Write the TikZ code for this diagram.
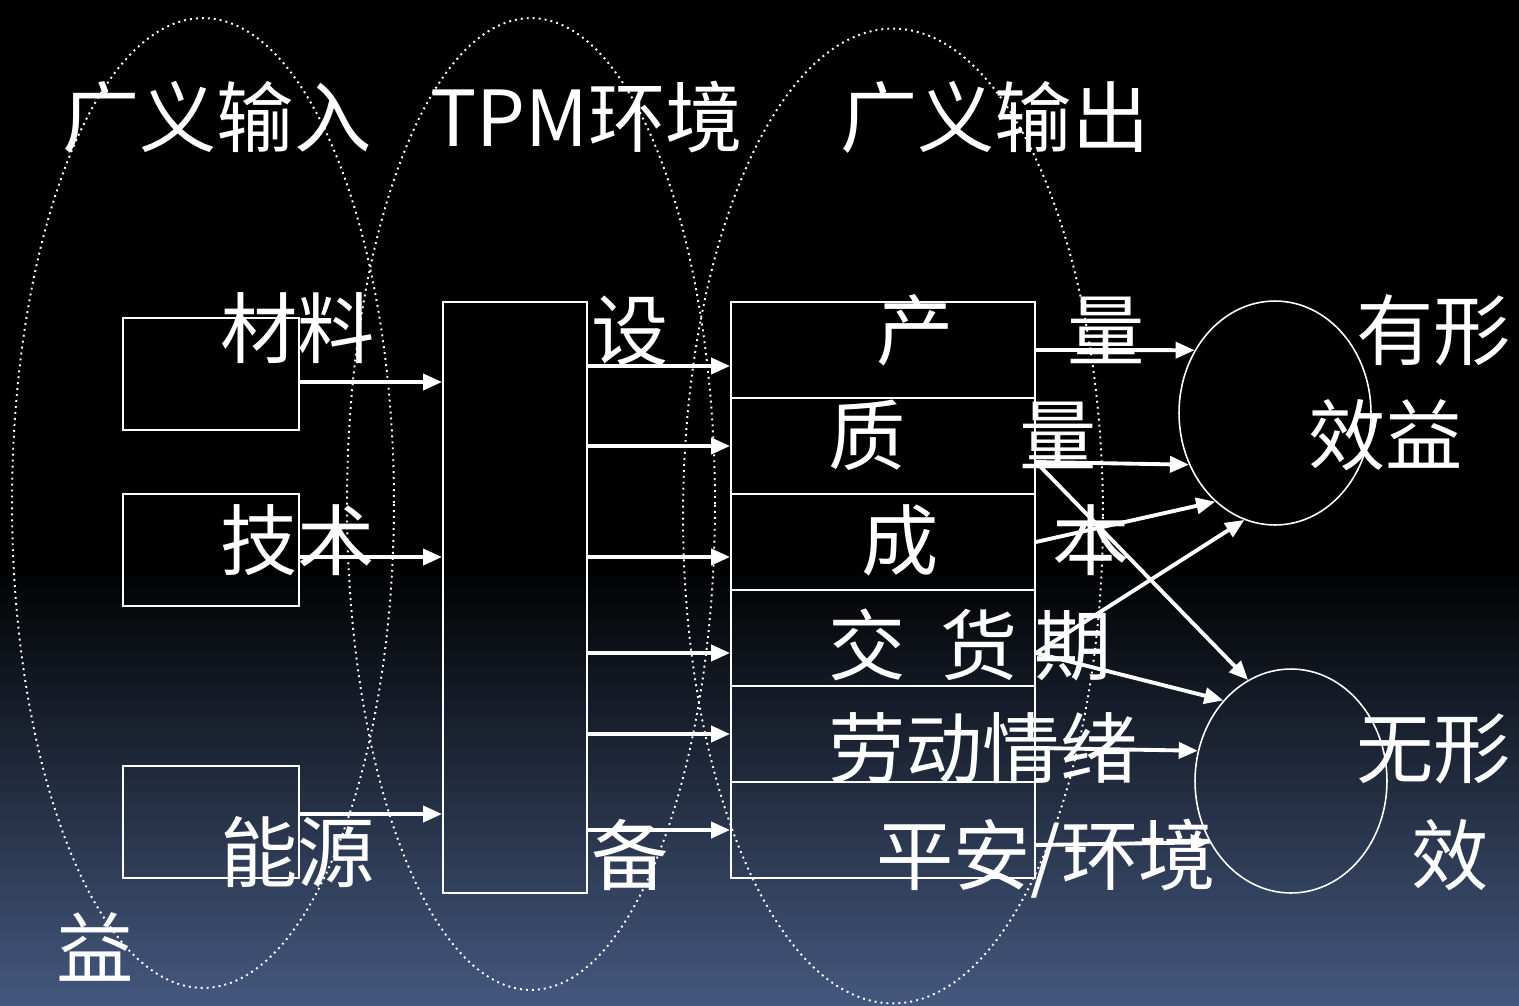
\documentclass[tikz,border=0pt]{standalone}
\usepackage{fontspec}
\setmainfont{Noto Sans CJK SC}
\usetikzlibrary{arrows.meta, shapes.geometric}

\definecolor{bgbot}{RGB}{68,88,126}
\pgfdeclareverticalshading{bgshade}{100bp}{color(0bp)=(bgbot); color(25bp)=(bgbot); color(47bp)=(black); color(100bp)=(black)}

\begin{document}
\begin{tikzpicture}[
        x=0.02cm, y=-0.02cm, % единица = пиксель исходной картинки
        word/.style = {text=white, font=\fontsize{44}{53}\selectfont, inner sep=0pt, anchor=base west},
        box/.style = {draw=white, line width=1.1pt, inner sep=0pt}, % прямоугольники
        zone/.style = {draw=white, line width=1.1pt, dash pattern=on 1.1pt off 2.3pt}, % пунктирные овалы
        gain/.style = {ellipse, draw=white, line width=0.9pt, minimum width=3.84cm, minimum height=4.48cm},
        arr/.style = {draw=white, line width=2.2pt, -{Triangle[length=0.38cm, width=0.32cm]}},
    ]

    \useasboundingbox (0,0) rectangle (1519,1005);
    \shade[shading=bgshade] (0,0) rectangle (1519,1005);

    % три области
    \draw[zone] (203,503) ellipse [x radius=3.82cm, y radius=9.70cm];
    \draw[zone] (531,504) ellipse [x radius=3.68cm, y radius=9.72cm];
    \draw[zone] (893,516) ellipse [x radius=4.20cm, y radius=9.75cm];

    % входы
    \node[box, minimum width=3.52cm, minimum height=2.24cm] (m1) at (211,374) {};
    \node[box, minimum width=3.52cm, minimum height=2.24cm] (m2) at (211,550) {};
    \node[box, minimum width=3.52cm, minimum height=2.24cm] (m3) at (211,822) {};

    \node[box, minimum width=2.88cm, minimum height=11.82cm] (equip) at (515,597.5) {};

    % выходы
    \foreach \i in {1,...,6}
        \node[box, minimum width=6.08cm, minimum height=1.92cm] (r\i) at (883,254+96*\i) {};

    \node[gain] (g1) at (1275,413) {};
    \node[gain] (g2) at (1291,781) {};

    % надписи
    \node[word] (lIn) at (62,146) {广义输入};
    \node[word] (lEnv) at (430,146) {TPM环境};
    \node[word] (lOut) at (840,146) {广义输出};
    \node[word] (lMat) at (220,357) {材料};
    \node[word] (lTec) at (220,569) {技术};
    \node[word] (lEne) at (220,881) {能源};
    \node[word] (lYi) at (56,977) {益};
    \node[word] (lShe) at (591,359) {设};
    \node[word] (lBei) at (591,884) {备};
    \node[word] (lQty) at (876,359) {产\hspace{1.47em}量};
    \node[word] (lQlt) at (828,464) {质\hspace{1.47em}量};
    \node[word] (lCst) at (861,569) {成\hspace{1.47em}本};
    \node[word] (lDlv) at (828,674) {交\hspace{0.45em}货\hspace{0.22em}期};
    \node[word] (lMor) at (828,777) {劳动情绪};
    \node[word] (lSaf) at (876,884) {平安/环境};
    \node[word] (lTg1) at (1356,359) {有形};
    \node[word] (lTg2) at (1308,464) {效益};
    \node[word] (lIt1) at (1356,777) {无形};
    \node[word] (lIt2) at (1411,884) {效};

    % стрелки
    \foreach \src/\dy in {m1/-0.16cm, m2/-0.14cm, m3/0.16cm}
        \draw[arr] ([yshift=\dy]\src.east) coordinate (s) -- (s -| equip.west);
    \foreach \dst/\dy in {r1/-0.32cm, r2/0cm, r3/-0.3cm, r4/-0.3cm, r5/0cm, r6/0cm}
        \draw[arr] ([yshift=\dy]\dst.west) coordinate (t) (equip.east |- t) -- (t);

    \draw[arr] (r1.east) -- (g1.142);
    \draw[arr] ([yshift=-0.32cm]r2.east) -- (g1.211);
    \draw[arr] (r3.east) -- (g1.236);
    \draw[arr] ([yshift=-0.3cm]r4.east) -- (g1.254);
    \draw[arr] ([yshift=-0.32cm]r2.east) -- (g2.113);
    \draw[arr] ([yshift=-0.3cm]r4.east) -- (g2.130);
    \draw[arr] ([yshift=-0.28cm]r5.east) -- (g2.162);
    \draw[arr] ([yshift=-0.3cm]r6.east) -- (g2.217);
\end{tikzpicture}
\end{document}
